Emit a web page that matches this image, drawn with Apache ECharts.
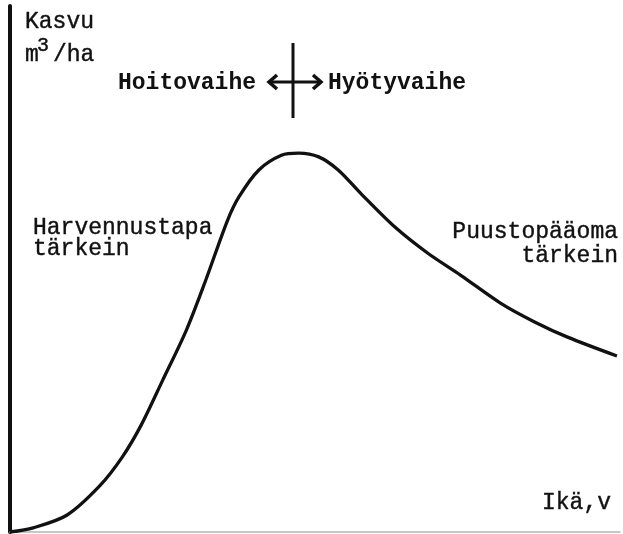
<!DOCTYPE html>
<html>
<head>
<meta charset="utf-8">
<script src="https://cdn.jsdelivr.net/npm/echarts@6/dist/echarts.min.js"></script>
<style>
  html, body { margin: 0; padding: 0; background: #fff; }
  #chart { width: 623px; height: 534px; }
</style>
</head>
<body>
<div id="chart"></div>
<script>
// curve: age (0-100) vs growth (0-100), arbitrary units
var ageValues = [0, 3.8, 9.3, 14.7, 18.4, 21.5, 25.0, 28.9, 32.1, 35.6, 37.5, 40.8, 44.5, 47.3, 50.6, 53.8, 57.6, 63.1, 68.5, 73.9, 80.4, 86.0, 91.4, 99.5];
var growthValues = [0, 0.8, 3.2, 8.8, 14.3, 20.4, 28.9, 38.5, 48.1, 59.3, 63.9, 69.1, 71.9, 72.3, 71.6, 69.1, 64.5, 58.2, 53.2, 49.0, 43.7, 40.1, 37.2, 33.6];

var yTitle = 'Kasvu';
var xTitle = 'Ikä,v';
var phaseLeft = 'Hoitovaihe';
var phaseRight = 'Hyötyvaihe';

var ink = '#111';
var mono = '"Liberation Mono", "DejaVu Sans Mono", monospace';

function label(text, x, baseline, opts) {
    opts = opts || {};
    var size = opts.size || 23;
    return {
        type: 'text',
        x: x,
        y: baseline - size * 0.29,
        silent: true,
        style: {
            text: text,
            font: (opts.bold ? 'bold ' : '') + size + 'px ' + mono,
            fill: ink,
            stroke: opts.bold ? null : ink,
            lineWidth: opts.bold ? 0 : 0.4,
            align: opts.align || 'left',
            verticalAlign: 'middle'
        }
    };
}

var chart = echarts.init(document.getElementById('chart'));

var option = {
    animation: false,
    backgroundColor: '#fff',
    grid: { left: 10, right: 3, top: 6, bottom: 2 },
    xAxis: {
        type: 'value',
        min: 0,
        max: 100,
        axisLine: { show: true, lineStyle: { color: '#b5b5b5', width: 1.5 } },
        axisTick: { show: false },
        axisLabel: { show: false },
        splitLine: { show: false }
    },
    yAxis: {
        type: 'value',
        min: 0,
        max: 100.4,
        axisLine: { show: true, lineStyle: { color: ink, width: 4 } },
        axisTick: { show: false },
        axisLabel: { show: false },
        splitLine: { show: false }
    },
    series: [
        {
            type: 'line',
            data: ageValues.map(function (a, i) { return [a, growthValues[i]]; }),
            smooth: 0.3,
            showSymbol: false,
            lineStyle: { color: ink, width: 3.3 }
        }
    ],
    graphic: [
        label(yTitle, 25, 29),
        label('m', 25, 62),
        label('3', 37, 52, { size: 20 }),
        label('/ha', 53, 62),
        label(phaseLeft, 118, 90, { bold: true }),
        label(phaseRight, 328, 90, { bold: true }),
        // phase boundary cross with double arrow
        { type: 'line', silent: true, shape: { x1: 293, y1: 43, x2: 293, y2: 118 }, style: { stroke: ink, lineWidth: 3 } },
        { type: 'line', silent: true, shape: { x1: 269, y1: 82, x2: 321, y2: 82 }, style: { stroke: ink, lineWidth: 3 } },
        { type: 'polyline', silent: true, shape: { points: [[277, 75], [269, 82], [277, 89]] }, style: { stroke: ink, lineWidth: 3.5, fill: null } },
        { type: 'polyline', silent: true, shape: { points: [[313, 75], [321, 82], [313, 89]] }, style: { stroke: ink, lineWidth: 3.5, fill: null } },
        label('Harvennustapa', 33, 235),
        label('tärkein', 33, 256),
        label('Puustopääoma', 618, 239, { align: 'right' }),
        label('tärkein', 618, 263, { align: 'right' }),
        label(xTitle, 542, 510)
    ]
};

chart.setOption(option);
</script>
</body>
</html>
